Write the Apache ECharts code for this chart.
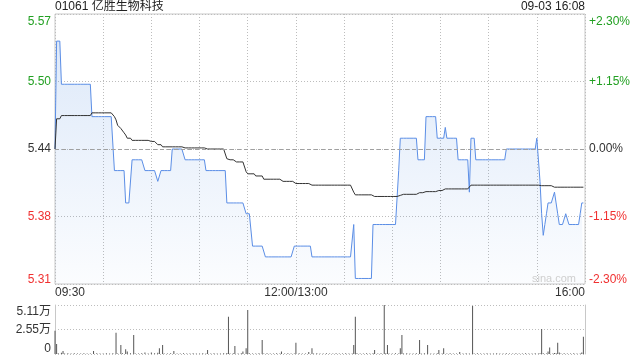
<!DOCTYPE html>
<html><head><meta charset="utf-8">
<script src="https://cdn.jsdelivr.net/npm/echarts@6/dist/echarts.min.js"></script>
<style>html,body{margin:0;padding:0;background:#fff}#c{width:640px;height:360px}</style>
</head><body><div id="c"></div>
<script>
const stockTitle = '01061 亿胜生物科技';
const stampText = '09-03 16:08';
const watermark = 'sina.com';
const prevClose = 5.44;
const priceTickLabels = ['5.31', '5.38', '5.44', '5.50', '5.57'];
const pctTickLabels = ['-2.30%', '-1.15%', '0.00%', '+1.15%', '+2.30%'];
const volTickLabels = ['0', '2.55万', '5.11万'];
const timeTickLabels = ['09:30', '12:00/13:00', '16:00'];
const timeTickIndex = [0, 150, 330];

const price = [
5.44,5.54,5.54,5.54,5.50,5.50,5.50,5.50,5.50,5.50,
5.50,5.50,5.50,5.50,5.50,5.50,5.50,5.50,5.50,5.50,
5.50,5.50,5.50,5.47,5.47,5.47,5.47,5.47,5.47,5.47,
5.47,5.47,5.47,5.47,5.47,5.47,5.47,5.42,5.42,5.42,
5.42,5.42,5.42,5.42,5.39,5.39,5.39,5.39,5.43,5.43,
5.43,5.43,5.43,5.43,5.43,5.43,5.42,5.42,5.42,5.42,
5.42,5.42,5.42,5.42,5.41,5.41,5.42,5.42,5.42,5.42,
5.42,5.42,5.42,5.44,5.44,5.44,5.44,5.44,5.44,5.44,
5.44,5.43,5.43,5.43,5.43,5.43,5.43,5.43,5.43,5.43,
5.43,5.43,5.43,5.43,5.42,5.42,5.42,5.42,5.42,5.42,
5.42,5.42,5.42,5.42,5.42,5.42,5.42,5.39,5.39,5.39,
5.39,5.39,5.39,5.39,5.39,5.39,5.39,5.39,5.39,5.38,
5.38,5.38,5.38,5.35,5.35,5.35,5.35,5.35,5.35,5.35,
5.35,5.34,5.34,5.34,5.34,5.34,5.34,5.34,5.34,5.34,
5.34,5.34,5.34,5.34,5.34,5.34,5.34,5.34,5.34,5.35,
5.35,5.35,5.35,5.35,5.35,5.35,5.35,5.35,5.35,5.35,
5.34,5.34,5.34,5.34,5.34,5.34,5.34,5.34,5.34,5.34,
5.34,5.34,5.34,5.34,5.34,5.34,5.34,5.34,5.34,5.34,
5.34,5.34,5.34,5.34,5.34,5.34,5.37,5.32,5.32,5.32,
5.32,5.32,5.32,5.32,5.32,5.32,5.32,5.32,5.37,5.37,
5.37,5.37,5.37,5.37,5.37,5.37,5.37,5.37,5.37,5.37,
5.37,5.37,5.37,5.37,5.42,5.45,5.45,5.45,5.45,5.45,
5.45,5.45,5.45,5.45,5.45,5.45,5.43,5.43,5.43,5.43,
5.43,5.47,5.47,5.47,5.47,5.47,5.47,5.47,5.45,5.45,
5.45,5.45,5.45,5.46,5.45,5.45,5.45,5.45,5.45,5.45,
5.45,5.43,5.43,5.43,5.43,5.43,5.43,5.43,5.40,5.45,
5.45,5.45,5.43,5.43,5.43,5.43,5.43,5.43,5.43,5.43,
5.43,5.43,5.43,5.43,5.43,5.43,5.43,5.43,5.43,5.43,
5.43,5.44,5.44,5.44,5.44,5.44,5.44,5.44,5.44,5.44,
5.44,5.44,5.44,5.44,5.44,5.44,5.44,5.44,5.44,5.44,
5.45,5.45,5.41,5.38,5.36,5.37,5.38,5.39,5.39,5.39,
5.39,5.40,5.39,5.38,5.37,5.37,5.37,5.37,5.38,5.38,
5.37,5.37,5.37,5.37,5.37,5.37,5.37,5.38,5.39,5.39
];

const avgPrice = [
5.44,5.468,5.468,5.468,5.471,5.471,5.471,5.471,5.471,5.471,
5.471,5.471,5.471,5.471,5.471,5.471,5.471,5.471,5.471,5.471,
5.471,5.471,5.471,5.4735,5.4735,5.4735,5.4735,5.4735,5.4735,5.4735,
5.4735,5.4735,5.4735,5.4735,5.4735,5.4735,5.4735,5.470,5.467,5.462,
5.462,5.459,5.459,5.455,5.453,5.450,5.450,5.450,5.448,5.448,
5.448,5.448,5.448,5.448,5.448,5.448,5.448,5.448,5.448,5.447,
5.447,5.447,5.447,5.446,5.444,5.444,5.444,5.442,5.442,5.442,
5.442,5.442,5.442,5.442,5.442,5.442,5.442,5.442,5.442,5.442,
5.442,5.441,5.441,5.441,5.441,5.441,5.441,5.441,5.441,5.441,
5.441,5.441,5.441,5.441,5.440,5.440,5.440,5.440,5.440,5.440,
5.440,5.440,5.440,5.440,5.440,5.440,5.440,5.431,5.430,5.430,
5.430,5.430,5.430,5.428,5.428,5.428,5.428,5.428,5.428,5.419,
5.417,5.417,5.417,5.417,5.417,5.415,5.415,5.415,5.415,5.415,
5.412,5.412,5.412,5.412,5.412,5.412,5.412,5.412,5.412,5.412,
5.412,5.412,5.410,5.410,5.410,5.410,5.410,5.410,5.410,5.410,
5.408,5.408,5.408,5.408,5.408,5.408,5.408,5.408,5.408,5.408,
5.4065,5.4065,5.4065,5.4065,5.4065,5.4065,5.4065,5.4065,5.4065,5.4065,
5.4065,5.4065,5.4065,5.4065,5.4065,5.4065,5.4065,5.4065,5.4065,5.4065,
5.4065,5.4065,5.4065,5.4065,5.4065,5.4065,5.400,5.3975,5.3975,5.3975,
5.3975,5.3975,5.3975,5.3975,5.3975,5.3975,5.3975,5.3975,5.396,5.396,
5.396,5.396,5.396,5.396,5.396,5.396,5.396,5.396,5.396,5.396,
5.396,5.396,5.396,5.396,5.397,5.397,5.398,5.398,5.398,5.398,
5.398,5.398,5.398,5.398,5.398,5.398,5.3995,5.3995,5.3995,5.3995,
5.4005,5.4005,5.4005,5.4005,5.4005,5.4005,5.4005,5.4005,5.4015,5.4015,
5.4015,5.4015,5.4015,5.403,5.403,5.403,5.403,5.403,5.403,5.403,
5.403,5.403,5.403,5.403,5.403,5.403,5.403,5.403,5.403,5.4065,
5.4065,5.4065,5.4065,5.4065,5.4065,5.4065,5.4065,5.4065,5.4065,5.4065,
5.4065,5.4065,5.4065,5.4065,5.4065,5.4065,5.4065,5.4065,5.4065,5.4065,
5.4065,5.4065,5.4065,5.4065,5.4065,5.4065,5.4065,5.4065,5.4065,5.4065,
5.4065,5.4065,5.4065,5.4065,5.4065,5.4065,5.4065,5.4065,5.4065,5.4065,
5.4065,5.4065,5.4065,5.406,5.406,5.406,5.406,5.406,5.406,5.406,
5.406,5.4046,5.4046,5.4046,5.4046,5.4046,5.4046,5.4046,5.4046,5.4046,
5.4046,5.4046,5.4046,5.4046,5.4046,5.4046,5.4046,5.4046,5.4046,5.4046
];

const volume = [
24300,10400,800,0,1200,3100,600,0,700,0,
500,0,800,0,600,0,500,0,700,0,
600,0,500,0,3100,0,700,0,500,0,
600,0,800,0,500,0,900,0,22200,600,
0,9400,700,0,4900,2600,0,800,0,19800,
600,0,500,0,700,0,1500,0,600,0,
1500,0,700,0,1200,5900,0,9400,600,0,
500,0,700,0,3100,0,600,0,500,0,
700,0,500,0,600,0,800,0,500,0,
600,0,700,0,500,4200,0,600,0,700,
0,500,0,600,0,800,0,1000,38900,600,
0,700,8300,0,600,0,800,2600,0,5900,
45900,700,0,600,0,500,0,800,0,14600,
600,0,700,0,500,0,600,0,700,0,
500,2600,0,600,0,700,0,500,0,600,
11800,0,700,0,500,0,600,0,2000,0,
5900,600,0,700,0,500,0,600,0,700,
0,500,0,600,0,700,0,500,0,600,
0,700,0,500,0,600,9400,38900,700,0,
600,0,500,0,700,0,600,0,800,4200,
0,600,0,700,0,51100,700,9400,600,0,
500,0,700,0,600,5900,19800,600,0,700,
0,500,0,600,0,700,0,14600,600,0,
700,0,9400,0,500,0,600,0,700,4200,
0,600,5900,0,500,0,700,0,600,0,
500,0,2000,0,600,0,700,0,500,0,
50000,600,0,700,0,500,0,600,0,700,
0,500,0,600,0,700,0,500,0,600,
0,700,0,500,0,600,0,700,0,500,
0,600,0,700,0,500,0,600,0,700,
0,500,800,26100,700,0,600,2600,6900,0,
600,1000,700,11800,1500,600,0,700,0,500,
0,600,0,700,0,500,0,600,1500,18000
];

// minute categories 09:30..12:00, 13:01..16:00
const pad2 = n => (n < 10 ? '0' : '') + n;
const fmtMin = m => pad2(Math.floor(m / 60)) + ':' + pad2(m % 60);
const categories = [];
for (let m = 9 * 60 + 30; m <= 12 * 60; m++) categories.push(fmtMin(m));
for (let m = 13 * 60 + 1; m <= 16 * 60; m++) categories.push(fmtMin(m));

const toPct = p => (p - prevClose) / prevClose * 100;
const pricePct = price.map(toPct);
const avgPct = avgPrice.map(toPct);

const FONT = 'Arial, "Liberation Sans", "Noto Sans CJK SC", sans-serif';
const GREEN = '#22a022', RED = '#f03030', DARK = '#333';
const pctIdx = v => Math.round((v + 2.3) / 1.15);

const richY = {
  gt: {color: GREEN, fontSize: 12, fontFamily: FONT, padding: [15, 0, 0, 0]},
  g: {color: GREEN, fontSize: 12, fontFamily: FONT},
  n: {color: DARK, fontSize: 12, fontFamily: FONT},
  r: {color: RED, fontSize: 12, fontFamily: FONT},
  rb: {color: RED, fontSize: 12, fontFamily: FONT, padding: [0, 0, 9, 0]}
};
const styleFor = i => i === 4 ? 'gt' : i === 3 ? 'g' : i === 2 ? 'n' : i === 1 ? 'r' : 'rb';
const gridDot = {color: '#bdbdbd', type: [1, 2], width: 1};

const chart = echarts.init(document.getElementById('c'), null, {renderer: 'canvas'});
chart.setOption({
  animation: false,
  backgroundColor: '#fff',
  textStyle: {fontFamily: FONT},
  graphic: [
    {type: 'text', left: 55, top: 1, style: {text: stockTitle, font: '12px ' + FONT, fill: '#222'}},
    {type: 'text', right: 55, top: 1, style: {text: stampText, font: '12px ' + FONT, fill: '#222'}},
    {type: 'text', left: 532, top: 273, z: 10, style: {text: watermark, font: '11px ' + FONT, fill: '#cfcfcf'}}
  ],
  grid: [
    {left: 55, right: 55, top: 14, height: 270, show: true, borderColor: '#c8c8c8', borderWidth: 1},
    {left: 55, right: 55, top: 305, height: 49}
  ],
  xAxis: [
    {
      type: 'category', gridIndex: 0, data: categories, boundaryGap: false,
      axisLine: {show: false}, axisTick: {show: false},
      axisLabel: {
        margin: 3, color: DARK, fontSize: 12, fontFamily: FONT,
        interval: (i) => timeTickIndex.indexOf(i) >= 0,
        formatter: (v, i) => {
          const k = timeTickIndex.indexOf(i);
          if (k === 0) return '{l|' + timeTickLabels[0] + '}';
          if (k === 2) return '{r|' + timeTickLabels[2] + '}';
          return '{c|' + timeTickLabels[1] + '}';
        },
        rich: {
          l: {color: DARK, fontSize: 12, fontFamily: FONT, padding: [0, 0, 0, 30]},
          c: {color: DARK, fontSize: 12, fontFamily: FONT},
          r: {color: DARK, fontSize: 12, fontFamily: FONT, padding: [0, 30, 0, 0]}
        }
      },
      splitLine: {show: true, interval: (i) => i % 30 === 0, lineStyle: gridDot}
    },
    {
      type: 'category', gridIndex: 1, data: categories, boundaryGap: false,
      axisLine: {show: false}, axisTick: {show: false}, axisLabel: {show: false}, splitLine: {show: false}
    }
  ],
  yAxis: [
    {
      type: 'value', gridIndex: 0, position: 'left', min: -2.3, max: 2.3, interval: 1.15,
      axisLine: {show: false}, axisTick: {show: false},
      axisLabel: {
        margin: 4, fontSize: 12, fontFamily: FONT,
        formatter: v => { const i = pctIdx(v); return '{' + styleFor(i) + '|' + priceTickLabels[i] + '}'; },
        rich: richY
      },
      splitLine: {show: true, lineStyle: gridDot}
    },
    {
      type: 'value', gridIndex: 0, position: 'right', min: -2.3, max: 2.3, interval: 1.15,
      axisLine: {show: false}, axisTick: {show: false},
      axisLabel: {
        margin: 4, fontSize: 12, fontFamily: FONT,
        formatter: v => { const i = pctIdx(v); return '{' + styleFor(i) + '|' + pctTickLabels[i] + '}'; },
        rich: richY
      },
      splitLine: {show: false}
    },
    {
      type: 'value', gridIndex: 1, position: 'left', min: 0, max: 51100, interval: 25550,
      axisLine: {show: true, lineStyle: {color: '#c8c8c8', width: 1}}, axisTick: {show: false},
      axisLabel: {
        margin: 4, fontSize: 12, fontFamily: FONT,
        formatter: v => {
          const i = Math.round(v / 25550);
          const s = i === 2 ? 't' : i === 0 ? 'b' : 'm';
          return '{' + s + '|' + volTickLabels[i] + '}';
        },
        rich: {
          t: {color: DARK, fontSize: 12, fontFamily: FONT, padding: [14, 0, 0, 0]},
          m: {color: DARK, fontSize: 12, fontFamily: FONT},
          b: {color: DARK, fontSize: 12, fontFamily: FONT, padding: [0, 0, 11, 0]}
        }
      },
      splitLine: {show: true, lineStyle: gridDot}
    },
    {
      type: 'value', gridIndex: 1, position: 'right', min: 0, max: 51100, interval: 25550,
      axisLine: {show: true, lineStyle: {color: '#c8c8c8', width: 1}}, axisTick: {show: false},
      axisLabel: {show: false}, splitLine: {show: false}
    }
  ],
  series: [
    {
      name: 'price', type: 'line', xAxisIndex: 0, yAxisIndex: 0, data: pricePct,
      showSymbol: false, symbol: 'none',
      lineStyle: {color: '#5b8ee6', width: 1},
      areaStyle: {
        origin: 'start',
        color: new echarts.graphic.LinearGradient(0, 0, 0, 1, [
          {offset: 0, color: 'rgba(80,140,225,0.27)'},
          {offset: 1, color: 'rgba(80,140,225,0.03)'}
        ])
      },
      markLine: {
        silent: true, symbol: ['none', 'none'], label: {show: false},
        lineStyle: {color: '#a0a0a0', type: [4, 3], width: 1},
        data: [{yAxis: 0}]
      }
    },
    {
      name: 'avg', type: 'line', xAxisIndex: 0, yAxisIndex: 0, data: avgPct,
      showSymbol: false, symbol: 'none',
      lineStyle: {color: '#333333', width: 1}
    },
    {
      name: 'vol', type: 'bar', xAxisIndex: 1, yAxisIndex: 2, data: volume,
      barWidth: 1, itemStyle: {color: '#555555'}
    }
  ]
});
</script>
</body></html>
